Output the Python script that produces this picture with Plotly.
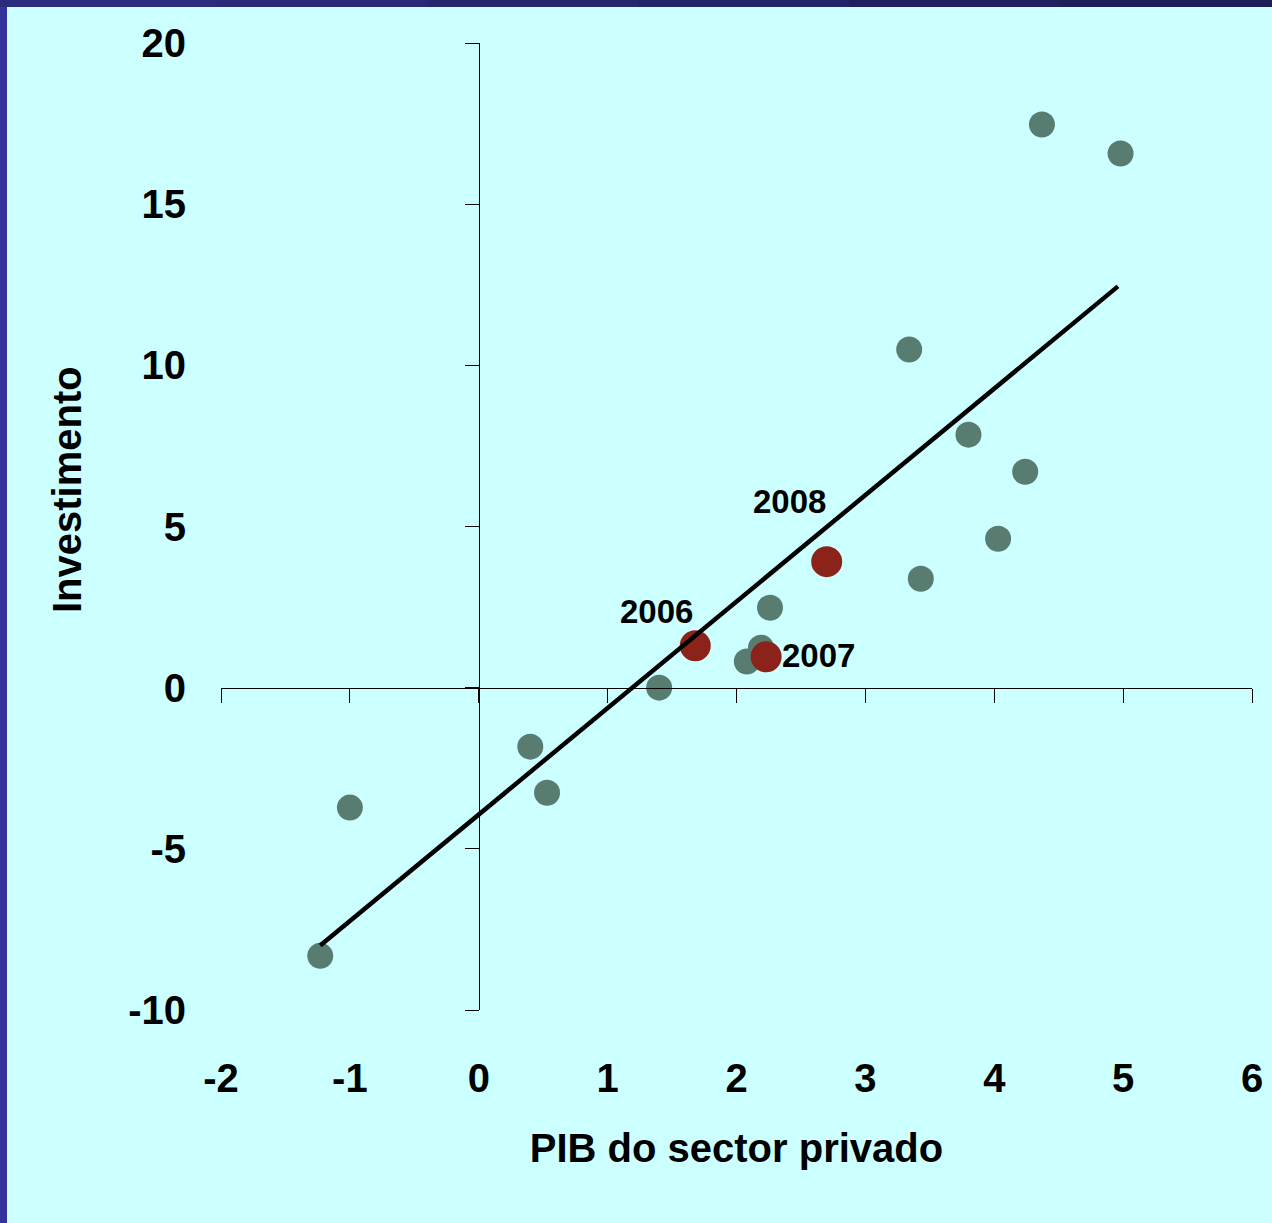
import plotly.graph_objects as go

# Data
gray_x = [-1.23, -1.00, 0.40, 0.53, 1.40, 2.08, 2.19, 2.26, 3.34, 3.43, 3.80, 4.03, 4.24, 4.37, 4.98]
gray_y = [-8.32, -3.72, -1.83, -3.26, 0.00, 0.81, 1.24, 2.48, 10.49, 3.38, 7.85, 4.62, 6.70, 17.47, 16.57]

red_years = ["2006", "2007", "2008"]
red_x = [1.68, 2.23, 2.70]
red_y = [1.30, 0.96, 3.91]

trend_x = [-1.23, 4.96]
trend_y = [-8.0, 12.45]

x_ticks = [-2, -1, 0, 1, 2, 3, 4, 5, 6]
y_ticks = [-10, -5, 0, 5, 10, 15, 20]

FONT = "Liberation Sans, Arial, Helvetica, sans-serif"
BG = "#CCFFFF"

fig = go.Figure()

fig.add_trace(go.Scatter(x=gray_x, y=gray_y, mode="markers",
                         marker=dict(size=26, color="#587D70", line=dict(width=0)),
                         showlegend=False, hoverinfo="x+y"))
fig.add_trace(go.Scatter(x=red_x, y=red_y, mode="markers",
                         marker=dict(size=31, color="#8B231B", line=dict(width=0)),
                         showlegend=False, hoverinfo="x+y"))
fig.add_trace(go.Scatter(x=trend_x, y=trend_y, mode="lines",
                         line=dict(color="black", width=4.5),
                         showlegend=False, hoverinfo="skip"))
# helper trace so the crossing axes (x2/y2) are rendered
fig.add_trace(go.Scatter(x=[None], y=[None], xaxis="x2", yaxis="y2",
                         mode="markers", showlegend=False, hoverinfo="skip"))

tickfont = dict(family=FONT, size=40, color="black", weight="bold")

fig.update_layout(
    template="none",
    width=1272, height=1223,
    margin=dict(l=221, r=20, t=43, b=213, pad=0),
    paper_bgcolor=BG, plot_bgcolor=BG,
    font=dict(family=FONT, color="black"),
    xaxis=dict(range=[-2, 6], tickvals=x_ticks, ticktext=[str(v) for v in x_ticks],
               showgrid=False, zeroline=False, showline=False, ticks="", automargin=False,
               tickfont=tickfont, ticklabelstandoff=41,
               title=dict(text="PIB do sector privado",
                          font=dict(family=FONT, size=40, color="black", weight="bold"),
                          standoff=34)),
    yaxis=dict(range=[-10, 20], tickvals=y_ticks, ticktext=[str(v) for v in y_ticks],
               showgrid=False, zeroline=False, showline=False, ticks="", automargin=False,
               tickfont=tickfont, ticklabelstandoff=34),
    xaxis2=dict(range=[-2, 6], overlaying="x", anchor="free", position=1/3, side="bottom",
                tickvals=x_ticks, showticklabels=False, showgrid=False, zeroline=False,
                showline=True, linecolor="black", linewidth=1.3, automargin=False,
                ticks="outside", ticklen=14, tickcolor="black", tickwidth=1.3),
    yaxis2=dict(range=[-10, 20], overlaying="y", anchor="free", position=0.25, side="left",
                tickvals=y_ticks, showticklabels=False, showgrid=False, zeroline=False,
                showline=True, linecolor="black", linewidth=1.3, automargin=False,
                ticks="outside", ticklen=14, tickcolor="black", tickwidth=1.3),
)

# y-axis title
fig.add_annotation(text="Investimento", xref="paper", yref="paper",
                   x=(67 - 221) / 1031, y=(1010 - 490) / 967, textangle=-90,
                   showarrow=False, xanchor="center", yanchor="middle",
                   font=dict(family=FONT, size=40, color="black", weight="bold"))

# year labels, anchored to the red points
label_shift = {"2006": (-39, 34, "center"), "2007": (14, 1, "left"), "2008": (-37, 60, "center")}
for yr, xv, yv in zip(red_years, red_x, red_y):
    dx, dy, anc = label_shift[yr]
    fig.add_annotation(text=yr, x=xv, y=yv, xshift=dx, yshift=dy, showarrow=False,
                       xanchor=anc, yanchor="middle",
                       font=dict(family=FONT, size=33, color="black", weight="bold"))

# dark frame bands (left and top)
W, H = 1031, 967
def px_x(p):
    return (p - 221) / W
def px_y(p):
    return (1010 - p) / H

fig.add_shape(type="rect", xref="paper", yref="paper", layer="above",
              x0=px_x(-2), x1=px_x(7), y0=px_y(1230), y1=px_y(0),
              fillcolor="#333399", line=dict(width=0))
top_cols = ["#2C2C7E", "#292977", "#26266F", "#232367", "#20205F", "#1D1D58"]
n = len(top_cols)
for i, c in enumerate(top_cols):
    fig.add_shape(type="rect", xref="paper", yref="paper", layer="above",
                  x0=px_x(7 + (1272 - 7) * i / n) - 0.001, x1=px_x(7 + (1280 - 7) * (i + 1) / n),
                  y0=px_y(7), y1=px_y(-2), fillcolor=c, line=dict(width=0))
fig.add_shape(type="rect", xref="paper", yref="paper", layer="above",
              x0=px_x(-2), x1=px_x(7), y0=px_y(7), y1=px_y(-2),
              fillcolor="#2C2C7E", line=dict(width=0))

fig.write_html("out.html", config={"displayModeBar": False},
               post_script="document.body.style.margin='0';document.body.style.overflow='hidden';")
